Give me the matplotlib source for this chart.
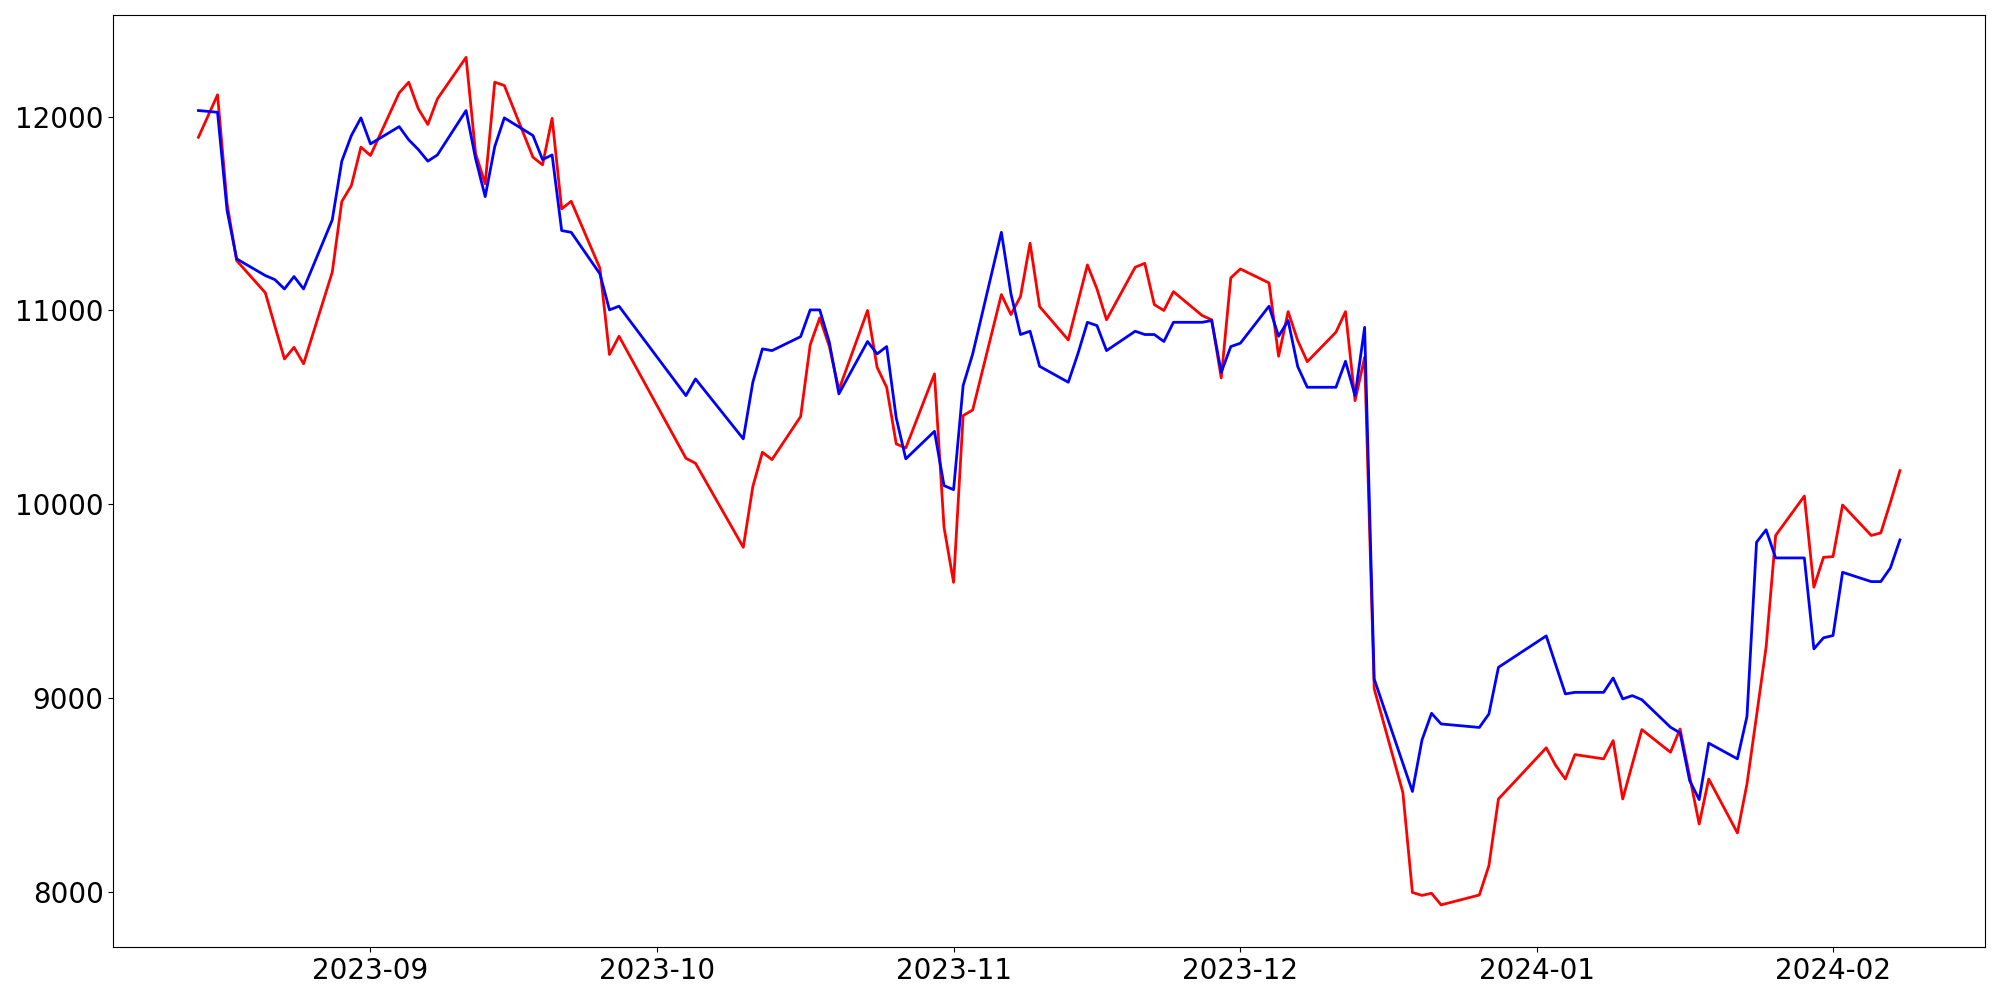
import pandas as pd
import matplotlib.pyplot as plt

# trading days (KRX calendar, holidays missing)
dates = [
    "2023-08-14", "2023-08-16", "2023-08-17", "2023-08-18", "2023-08-21", "2023-08-22", "2023-08-23",
    "2023-08-24", "2023-08-25", "2023-08-28", "2023-08-29", "2023-08-30", "2023-08-31",
    "2023-09-01", "2023-09-04", "2023-09-05", "2023-09-06", "2023-09-07", "2023-09-08", "2023-09-11",
    "2023-09-12", "2023-09-13", "2023-09-14", "2023-09-15", "2023-09-18", "2023-09-19", "2023-09-20",
    "2023-09-21", "2023-09-22", "2023-09-25", "2023-09-26", "2023-09-27",
    "2023-10-04", "2023-10-05", "2023-10-10", "2023-10-11", "2023-10-12", "2023-10-13", "2023-10-16",
    "2023-10-17", "2023-10-18", "2023-10-19", "2023-10-20", "2023-10-23", "2023-10-24", "2023-10-25",
    "2023-10-26", "2023-10-27", "2023-10-30", "2023-10-31",
    "2023-11-01", "2023-11-02", "2023-11-03", "2023-11-06", "2023-11-07", "2023-11-08", "2023-11-09",
    "2023-11-10", "2023-11-13", "2023-11-14", "2023-11-15", "2023-11-16", "2023-11-17", "2023-11-20",
    "2023-11-21", "2023-11-22", "2023-11-23", "2023-11-24", "2023-11-27", "2023-11-28", "2023-11-29",
    "2023-11-30",
    "2023-12-01", "2023-12-04", "2023-12-05", "2023-12-06", "2023-12-07", "2023-12-08", "2023-12-11",
    "2023-12-12", "2023-12-13", "2023-12-14", "2023-12-15", "2023-12-18", "2023-12-19", "2023-12-20",
    "2023-12-21", "2023-12-22", "2023-12-26", "2023-12-27", "2023-12-28",
    "2024-01-02", "2024-01-03", "2024-01-04", "2024-01-05", "2024-01-08", "2024-01-09", "2024-01-10",
    "2024-01-11", "2024-01-12", "2024-01-15", "2024-01-16", "2024-01-17", "2024-01-18", "2024-01-19",
    "2024-01-22", "2024-01-23", "2024-01-24", "2024-01-25", "2024-01-26", "2024-01-29", "2024-01-30",
    "2024-01-31",
    "2024-02-01", "2024-02-02", "2024-02-05", "2024-02-06", "2024-02-07", "2024-02-08",
]

red = [
    11893, 12112, 11550, 11257, 11091, 10919, 10750, 10810, 10725, 11197, 11562, 11644, 11842,
    11799, 12122, 12177, 12040, 11959, 12091, 12305, 11808, 11653, 12177, 12160, 11790, 11751, 11991,
    11524, 11563, 11218, 10773, 10867,
    10238, 10212, 9779, 10092, 10269, 10231, 10453, 10823, 10962, 10815, 10591, 11000, 10707, 10604,
    10312, 10291, 10673, 9882,
    9598, 10458, 10487, 11082, 10979, 11072, 11347, 11020, 10848, 11042, 11235, 11111, 10952, 11223,
    11243, 11030, 11000, 11097, 10974, 10952, 10652, 11168,
    11214, 11142, 10764, 10994, 10845, 10736, 10888, 10994, 10535, 10759, 9050, 8515, 7999, 7984,
    7995, 7935, 7986, 8137, 8481,
    8745, 8653, 8584, 8710, 8688, 8782, 8481, 8660, 8839, 8722, 8842, 8598, 8352, 8584, 8306, 8559,
    8910, 9264, 9840, 10043, 9573, 9727,
    9731, 9997, 9840, 9853, 10010, 10174,
]

blue = [
    12031, 12022, 11515, 11266, 11180, 11159, 11111, 11175, 11111, 11467, 11770, 11902, 11993,
    11859, 11948, 11880, 11830, 11770, 11802, 12031, 11782, 11587, 11845, 11993, 11902, 11778, 11802,
    11412, 11403, 11189, 11003, 11022,
    10561, 10647, 10338, 10630, 10802, 10793, 10865, 11003, 11003, 10836, 10570, 10840, 10776, 10814,
    10446, 10235, 10377, 10097,
    10076, 10613, 10776, 11403, 11086, 10876, 10893, 10712, 10630, 10776, 10939, 10922, 10793, 10893,
    10876, 10876, 10840, 10939, 10939, 10948, 10681, 10814,
    10831, 11022, 10867, 10948, 10711, 10604, 10604, 10738, 10561, 10913, 9100, 8665, 8520, 8785,
    8923, 8868, 8850, 8919, 9160,
    9322, 9172, 9023, 9031, 9031, 9105, 8997, 9014, 8993, 8851, 8822, 8576, 8478, 8769, 8688, 8907,
    9805, 9869, 9724, 9724, 9255, 9312,
    9324, 9650, 9602, 9602, 9672, 9817,
]

x = pd.to_datetime(dates)

fig, ax = plt.subplots(figsize=(20, 10), dpi=100)
ax.plot(x, red, color="red", linewidth=2)
ax.plot(x, blue, color="blue", linewidth=2)
ax.tick_params(labelsize=20)
plt.tight_layout()
plt.savefig("out.png")
